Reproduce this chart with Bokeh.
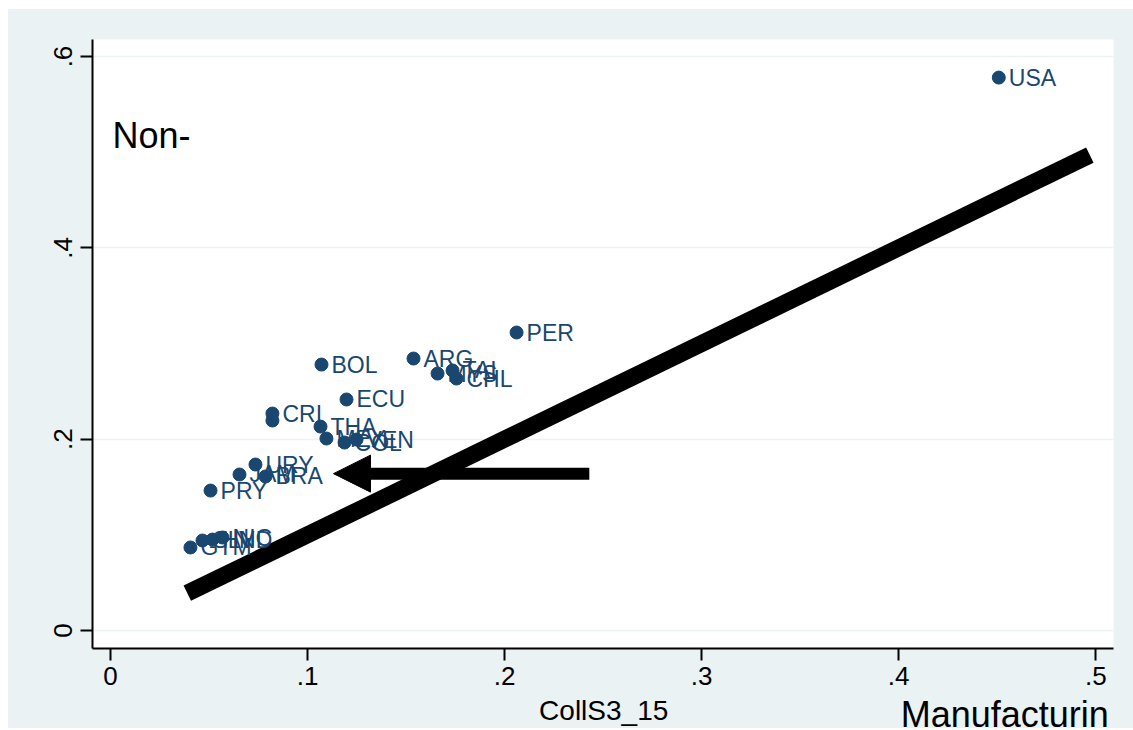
from bokeh.plotting import figure
from bokeh.models import Range1d, FixedTicker, ColumnDataSource, Arrow, NormalHead, Label, Spacer
from bokeh.layouts import column, row
from bokeh.embed import file_html
from bokeh.resources import INLINE
from bokeh.core.properties import value

countries = ["USA", "PER", "ARG", "BOL", "MYS", "TAI", "CHL", "ECU", "CRI", "",
             "THA", "MEX", "COL", "VEN", "URY", "JAM", "BRA", "PRY",
             "GTM", "SLV", "HND", "NIC"]
coll_x = [0.4508, 0.2061, 0.1538, 0.1071, 0.1660, 0.1736, 0.1756, 0.1198, 0.0822, 0.0822,
          0.1066, 0.1096, 0.1188, 0.1249, 0.0736, 0.0655, 0.0787, 0.0508,
          0.0406, 0.0467, 0.0518, 0.0569]
nonman_y = [0.578, 0.3115, 0.2843, 0.2780, 0.2686, 0.2718, 0.2634, 0.2415, 0.2268, 0.2195,
            0.2132, 0.2007, 0.1965, 0.1996, 0.1735, 0.1631, 0.1610, 0.1463,
            0.0868, 0.0941, 0.0951, 0.0972]

diag_x = [0.039, 0.497]
diag_y = [0.039, 0.497]
fit_x = [0.040, 0.490]
fit_y = [0.044, 0.494]

arrow_x = [0.243, 0.1132]
arrow_y = [0.164, 0.164]

x_ticks = [0, 0.1, 0.2, 0.3, 0.4, 0.5]
x_tick_labels = ["0", ".1", ".2", ".3", ".4", ".5"]
y_ticks = [0, 0.2, 0.4, 0.6]
y_tick_labels = ["0", ".2", ".4", ".6"]

FONT = "Liberation Sans"
BLUE = "#1A476F"
BG = "#EAF2F3"

xr = Range1d(-0.0091, 0.509)

p = figure(frame_width=1021, frame_height=609,
           x_range=xr, y_range=Range1d(-0.0188, 0.6178),
           output_backend="svg", toolbar_location=None,
           min_border_left=84, min_border_right=20, min_border_top=30, min_border_bottom=52,
           background_fill_color="white", border_fill_color=BG, outline_line_color=None)

p.xgrid.grid_line_color = None
p.ygrid.grid_line_color = BG
p.ygrid.grid_line_width = 1.5

for ax in (p.xaxis[0], p.yaxis[0]):
    ax.axis_line_color = "black"
    ax.axis_line_width = 2
    ax.major_tick_line_color = "black"
    ax.major_tick_line_width = 2
    ax.major_tick_in = 0
    ax.major_tick_out = 12
    ax.minor_tick_line_color = None
    ax.major_label_text_font = FONT
    ax.major_label_text_font_size = "26px"
    ax.major_label_text_color = "black"

p.xaxis.ticker = FixedTicker(ticks=x_ticks)
p.xaxis.major_label_overrides = dict(zip(x_ticks, x_tick_labels))
p.xaxis.major_label_standoff = 6

p.yaxis.ticker = FixedTicker(ticks=y_ticks)
p.yaxis.major_label_overrides = dict(zip(y_ticks, y_tick_labels))
p.yaxis.major_label_orientation = "vertical"
p.yaxis.major_label_standoff = 8

# hidden fitted line under the 45-degree line
p.line(fit_x, fit_y, line_color="#90353B", line_width=4, line_dash="6 4")
p.line(diag_x, diag_y, line_color="black", line_width=17, line_cap="butt")

src = ColumnDataSource(dict(x=coll_x, y=nonman_y, name=countries))
p.scatter("x", "y", source=src, size=13, fill_color=BLUE, line_color=BLUE)
p.text("x", "y", text="name", source=src, x_offset=10, text_align="left",
       text_baseline="middle", text_font=value(FONT), text_font_size="23px",
       text_color=BLUE)

p.add_layout(Arrow(end=NormalHead(size=37, fill_color="black", line_color="black"),
                   x_start=arrow_x[0], y_start=arrow_y[0], x_end=arrow_x[1], y_end=arrow_y[1],
                   line_color="black", line_width=12))

p.add_layout(Label(x=0.001, y=0.5174, text="Non-", text_font=FONT, text_font_size="36px",
                   text_color="black", text_baseline="middle"))

# strip under the axis holding the x title and the stray title text
p2 = figure(frame_width=1021, frame_height=30, x_range=xr, y_range=Range1d(0, 30),
            output_backend="svg", toolbar_location=None,
            min_border_left=84, min_border_right=20, min_border_top=0, min_border_bottom=0,
            background_fill_color=BG, border_fill_color=BG, outline_line_color=None,
            margin=(-2, 0, 0, 0))
p2.axis.visible = False
p2.grid.grid_line_color = None
p2.add_layout(Label(x=0.2503, y=18, text="CollS3_15", text_font=FONT, text_font_size="28px",
                    text_color="black", text_align="center", text_baseline="middle"))
p2.add_layout(Label(x=0.5066, y=14, text="Manufacturin", text_font=FONT,
                    text_font_size="36px", text_color="black", text_align="right",
                    text_baseline="middle"))

inner = column(p, p2, spacing=0, styles={"background-color": BG})
layout = row(Spacer(width=8), column(Spacer(height=9), inner, spacing=0), spacing=0)

open("out.html", "w").write(file_html(layout, INLINE))
